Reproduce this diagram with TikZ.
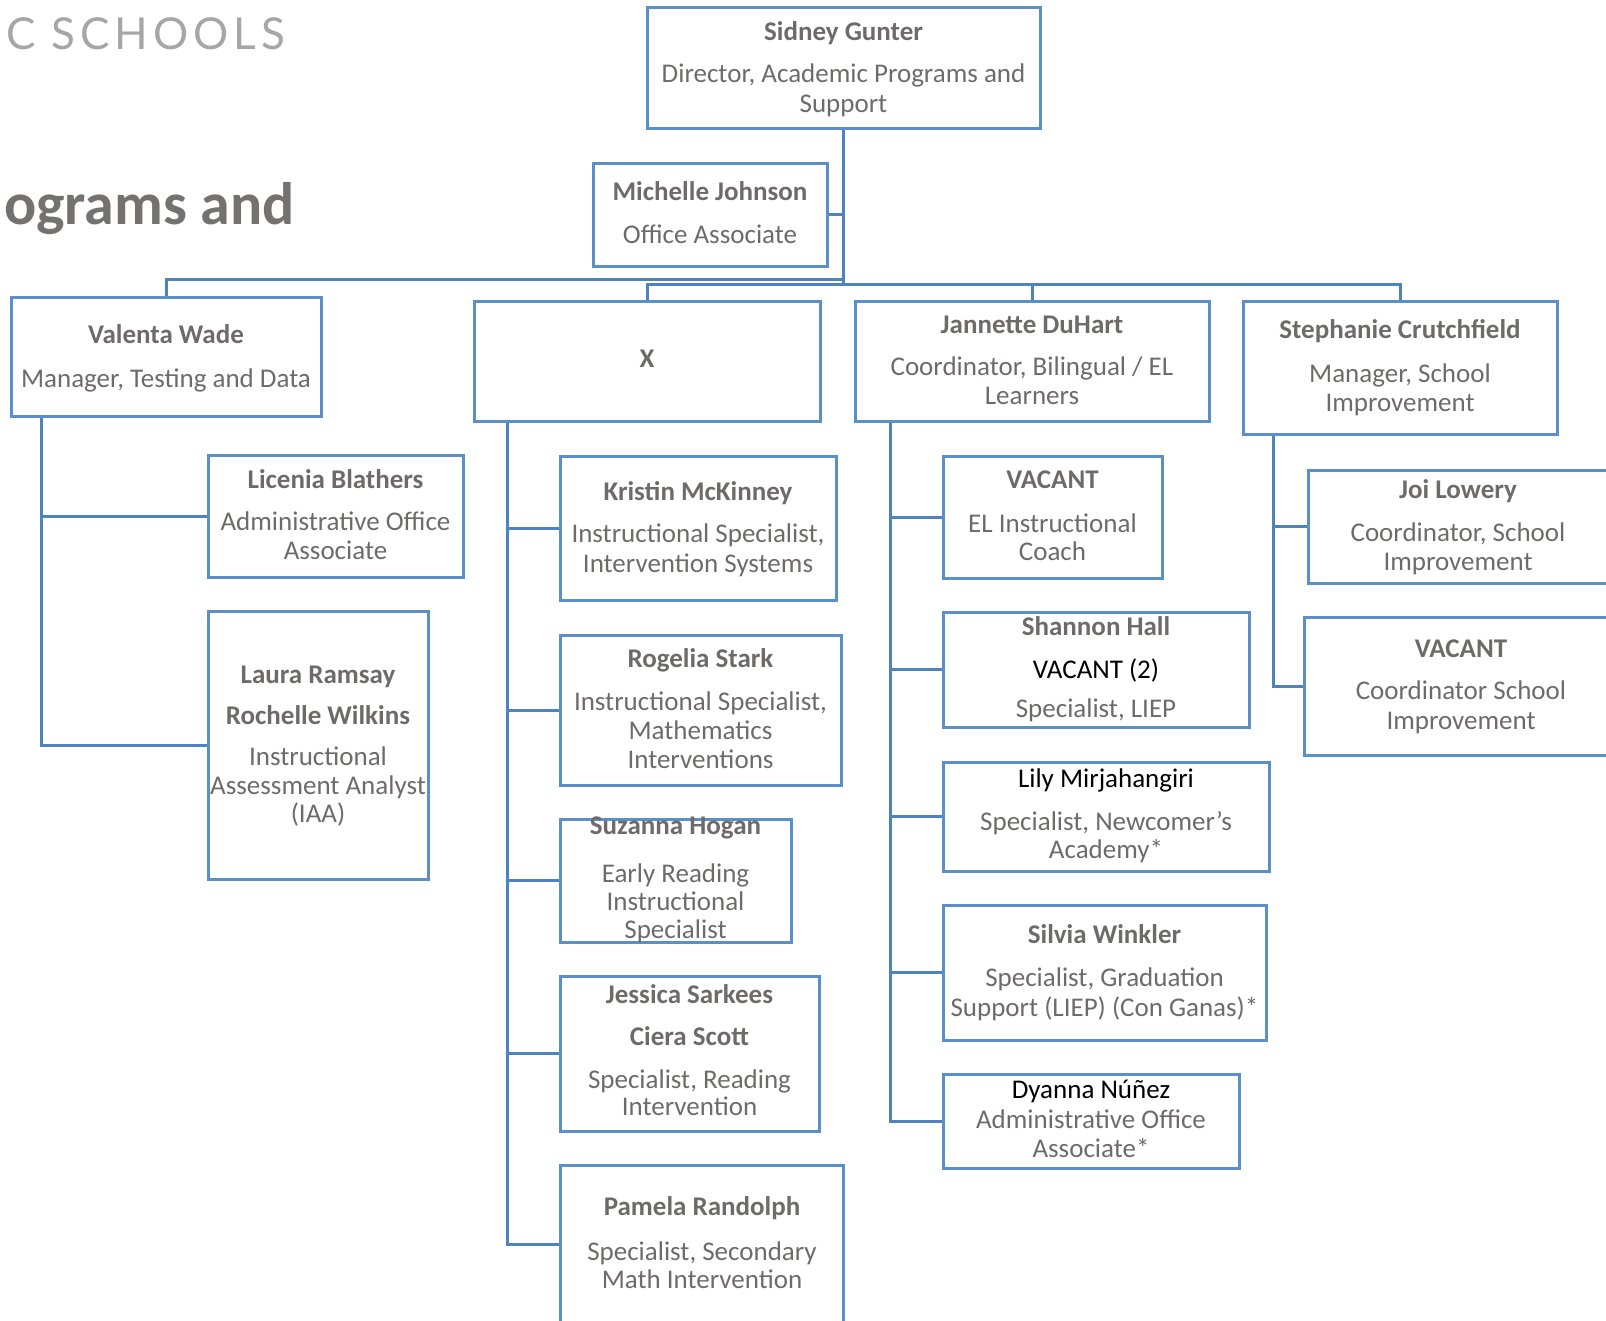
\documentclass[tikz,border=0pt]{standalone}
\usepackage{fontspec}
\setmainfont{Carlito}
\newfontfamily\titlefont[LetterSpace=11]{Lato}
\definecolor{boxblue}{RGB}{91,143,199}
\definecolor{linkblue}{RGB}{79,131,190}
\definecolor{txtgray}{RGB}{110,106,106}
\definecolor{headgray}{RGB}{117,113,113}
\definecolor{lightgraytitle}{RGB}{166,166,166}
\tikzset{
  orgbox/.style={draw=boxblue, line width=3pt, rectangle, inner sep=0pt},
  orgtxt/.style={align=center, inner sep=0pt, text=txtgray, font=\fontsize{27}{30}\selectfont, anchor=north},
  link/.style={draw=linkblue, line width=3pt},
}
\newcommand{\bx}[5]{\node[orgbox, minimum width={#4-#2}, minimum height={#5-#3}] (#1) at ({(#2+#4)/2},{(#3+#5)/2}) {};}
\newcommand{\tx}[4]{\node[orgtxt] (#1) at (#2,{#3-28}) {\rule{0pt}{28pt}#4};}
\newcommand{\blk}[1]{{\color{black}#1}}
\begin{document}
\begin{tikzpicture}[x=1pt,y=-1pt]
\useasboundingbox (0,0) rectangle (1606,1320);
\clip (0,0) rectangle (1606,1320);

% headings
\node[anchor=base east, inner sep=0pt, font=\titlefont\fontsize{44}{44}\selectfont, text=lightgraytitle] (brand) at (285,49) {C SCHOOLS};
\node[anchor=base east, inner sep=0pt, font=\bfseries\fontsize{60}{60}\selectfont, text=headgray] (heading) at (295,224) {ograms and};

% boxes
\bx{sidney}{647}{7}{1040}{128}
\bx{michelle}{593}{163}{827}{266}
\bx{valenta}{11}{297}{321}{416}
\bx{xbox}{474}{301}{820}{421}
\bx{jannette}{855}{301}{1209}{421}
\bx{stephanie}{1243}{301}{1557}{434}
\bx{licenia}{208}{455}{463}{577}
\bx{laura}{208}{611}{428}{879}
\bx{kristin}{560}{456}{836}{600}
\bx{rogelia}{560}{635}{841}{785}
\bx{suzanna}{560}{819}{791}{942}
\bx{jessica}{560}{976}{819}{1131}
\bx{pamela}{560}{1165}{843}{1323}
\bx{vacantel}{943}{456}{1162}{578}
\bx{shannon}{943}{612}{1249}{727}
\bx{lily}{943}{762}{1269}{871}
\bx{silvia}{943}{905}{1266}{1040}
\bx{dyanna}{943}{1074}{1239}{1168}
\bx{joi}{1308}{470}{1612}{583}
\bx{vacantsi}{1304}{617}{1618}{755}

% texts
\tx{sidney-t}{843.5}{40}{\textbf{Sidney Gunter}\\[12pt]Director, Academic Programs and\\Support}
\tx{michelle-t}{710}{200}{\textbf{Michelle Johnson}\\[13pt]Office Associate}
\tx{valenta-t}{166}{343}{\textbf{Valenta Wade}\\[14pt]Manager, Testing and Data}
\tx{x-t}{647}{367}{\textbf{X}}
\tx{jannette-t}{1032}{333}{\textbf{Jannette DuHart}\\[12pt]Coordinator, Bilingual / EL\\[-1pt]Learners}
\tx{stephanie-t}{1400}{338}{\textbf{Stephanie Crutchfield}\\[14pt]Manager, School\\[-1pt]Improvement}
\tx{licenia-t}{335.5}{488}{\textbf{Licenia Blathers}\\[12pt]Administrative Office\\[-1pt]Associate}
\tx{laura-t}{318}{683}{\textbf{Laura Ramsay}\\[11pt]\textbf{Rochelle Wilkins}\\[11pt]Instructional\\[-1pt]Assessment Analyst\\[-2pt](IAA)}
\tx{kristin-t}{698}{500}{\textbf{Kristin McKinney}\\[12pt]Instructional Specialist,\\Intervention Systems}
\tx{rogelia-t}{700.5}{667}{\textbf{Rogelia Stark}\\[13pt]Instructional Specialist,\\[-1pt]Mathematics\\[-1pt]Interventions}
\tx{suzanna-t}{675.5}{834}{\textbf{Suzanna Hogan}\\[18pt]Early Reading\\[-2pt]Instructional\\[-2pt]Specialist}
\tx{jessica-t}{689.5}{1003}{\textbf{Jessica Sarkees}\\[12pt]\textbf{Ciera Scott}\\[13pt]Specialist, Reading\\[-3pt]Intervention}
\tx{pamela-t}{702}{1215}{\textbf{Pamela Randolph}\\[15pt]Specialist, Secondary\\[-2pt]Math Intervention}
\tx{vacantel-t}{1052.5}{488}{\textbf{VACANT}\\[14pt]EL Instructional\\[-2pt]Coach}
\tx{shannon-t}{1096}{635}{\textbf{Shannon Hall}\\[13pt]\blk{VACANT (2)}\\[9pt]Specialist, LIEP}
\tx{lily-t}{1106}{787}{\blk{Lily Mirjahangiri}\\[13pt]Specialist, Newcomer’s\\[-2pt]Academy*}
\tx{silvia-t}{1104.5}{943}{\textbf{Silvia Winkler}\\[13pt]Specialist, Graduation\\Support (LIEP) (Con Ganas)*}
\tx{dyanna-t}{1091}{1098}{\blk{Dyanna Núñez}\\Administrative Office\\[-1pt]Associate*}
\tx{joi-t}{1458}{498}{\textbf{Joi Lowery}\\[13pt]Coordinator, School\\[-1pt]Improvement}
\tx{vacantsi-t}{1461}{657}{\textbf{VACANT}\\[12pt]Coordinator School\\Improvement}

% top-level connectors
\coordinate (busL) at (166,279);
\coordinate (busR) at (647,284);
\draw[link] (sidney.south) -- (sidney.south |- busR);
\draw[link] (michelle.east) -- (michelle.east -| sidney.south);
\draw[link] (valenta.north) -- (valenta.north |- busL) -- (busL -| sidney.south);
\draw[link] (xbox.north) -- (xbox.north |- busR) -- (busR -| stephanie.north) -- (stephanie.north);
\draw[link] (jannette.north) -- (jannette.north |- busR);

% spines
\draw[link] ([xshift=32pt]valenta.south west) |- (licenia.west);
\draw[link] ([xshift=32pt]valenta.south west) |- (laura.west);
\foreach \c in {kristin,rogelia,suzanna,jessica,pamela}
  \draw[link] ([xshift=35pt]xbox.south west) |- (\c.west);
\foreach \c in {vacantel,shannon,lily,silvia,dyanna}
  \draw[link] ([xshift=37pt]jannette.south west) |- (\c.west);
\foreach \c in {joi,vacantsi}
  \draw[link] ([xshift=32pt]stephanie.south west) |- (\c.west);
\end{tikzpicture}
\end{document}
